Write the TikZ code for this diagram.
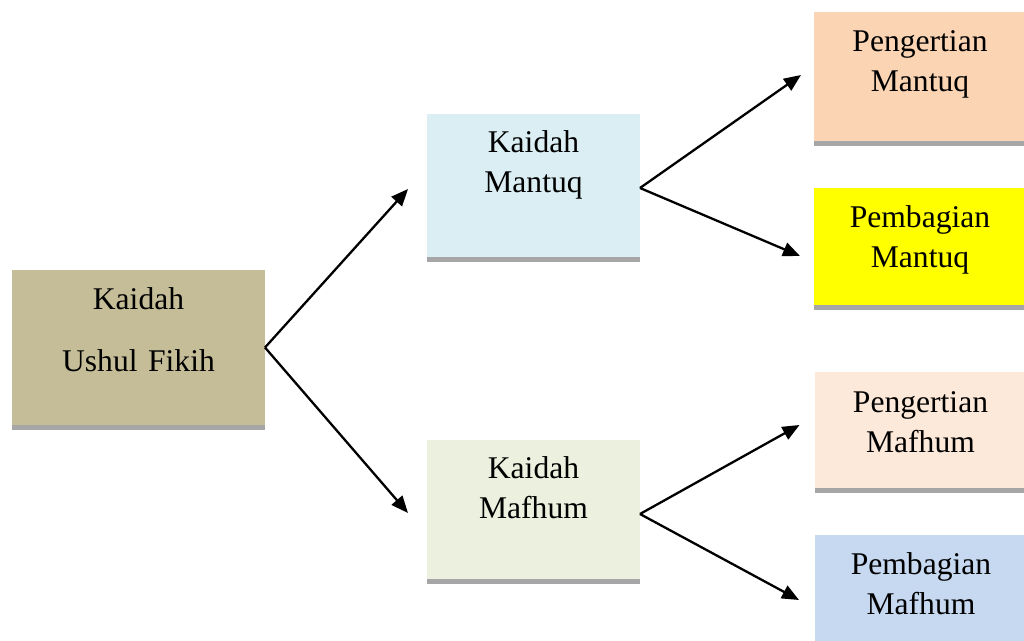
\documentclass[tikz,border=0pt]{standalone}
\usepackage{fontspec}
\setmainfont{Liberation Serif}
\usetikzlibrary{arrows.meta,shadows}

\definecolor{ushulfill}{HTML}{C4BD97}
\definecolor{mantuqfill}{HTML}{DAEEF3}
\definecolor{mafhumfill}{HTML}{EBF1DE}
\definecolor{pengmantuqfill}{HTML}{FBD4B4}
\definecolor{bagimantuqfill}{HTML}{FFFF00}
\definecolor{pengmafhumfill}{HTML}{FDE9D9}
\definecolor{bagimafhumfill}{HTML}{C6D9F1}

\begin{document}
\begin{tikzpicture}[x=0.5pt, y=-0.5pt]
  % Define styles
  \tikzstyle{box} = [rectangle, anchor=north, inner sep=0pt, outer sep=0pt,
                     align=center, text height=20pt,
                     font=\fontsize{15.8}{20}\selectfont,
                     drop shadow={shadow xshift=0pt, shadow yshift=-2.5pt,
                                  fill=black!35, opacity=1}]
  \tikzstyle{arrow} = [line width=1.15pt, -{Triangle[length=8.5pt, width=7pt]}]

  \useasboundingbox (0,0) rectangle (1024,641);

  % Nodes
  \node (ushul) [box, fill=ushulfill, text width=126.5pt, text depth=57.5pt,
                 font=\fontsize{15.8}{31}\selectfont] at (138.5,270) {Kaidah\\Ushul Fikih};
  \node (mantuq) [box, fill=mantuqfill, text width=106.5pt, text depth=52pt,
                  text height=19.5pt] at (533.5,114) {Kaidah\\Mantuq};
  \node (mafhum) [box, fill=mafhumfill, text width=106.5pt, text depth=50pt,
                  text height=19.5pt] at (533.5,440) {Kaidah\\Mafhum};
  \node (pengmantuq) [box, fill=pengmantuqfill, text width=106pt, text depth=44.5pt]
        at (920,12) {Pengertian\\Mantuq};
  \node (bagimantuq) [box, fill=bagimantuqfill, text width=106pt, text depth=38.5pt]
        at (920,188) {Pembagian\\Mantuq};
  \node (pengmafhum) [box, fill=pengmafhumfill, text width=106pt, text depth=37.5pt,
                      text height=20.5pt] at (920.5,372) {Pengertian\\Mafhum};
  \node (bagimafhum) [box, fill=bagimafhumfill, text width=106pt, text depth=40pt]
        at (921,535) {Pembagian\\Mafhum};

  % Arrows
  \draw [arrow] (ushul.east) -- ([xshift=-9.5pt, yshift=-1.75pt]mantuq.west);
  \draw [arrow] (ushul.east) -- ([xshift=-9.5pt, yshift=-1.75pt]mafhum.west);
  \draw [arrow] ([yshift=-1.25pt]mantuq.east) -- ([xshift=-6.5pt, yshift=0.75pt]pengmantuq.west);
  \draw [arrow] ([yshift=-1.25pt]mantuq.east) -- ([xshift=-7pt, yshift=-4.75pt]bagimantuq.west);
  \draw [arrow] ([yshift=-2.25pt]mafhum.east) -- ([xshift=-7.5pt, yshift=2.5pt]pengmafhum.west);
  \draw [arrow] ([yshift=-2.25pt]mafhum.east) -- ([xshift=-8pt, yshift=-2.5pt]bagimafhum.west);
\end{tikzpicture}
\end{document}
